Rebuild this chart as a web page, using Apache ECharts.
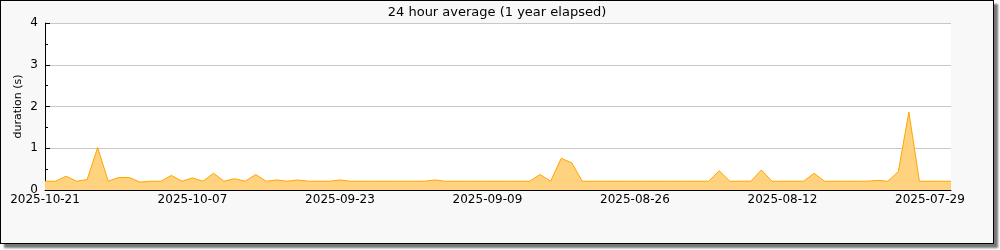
<!DOCTYPE html>
<html>
<head>
<meta charset="utf-8">
<script src="https://cdn.jsdelivr.net/npm/echarts@6/dist/echarts.min.js"></script>
<style>
html,body{margin:0;padding:0;background:#fff;width:1000px;height:250px;overflow:hidden;}
#box{position:absolute;left:0;top:0;width:992px;height:242px;border:1px solid #000;background:#f8f8f8;box-shadow:4px 4px 2px #777;}
#chart{width:992px;height:242px;}
</style>
</head>
<body>
<div id="box"><div id="chart"></div></div>
<script>
const titleText = '24 hour average (1 year elapsed)';
const yAxisName = 'duration (s)';
const startDate = '2025-10-21';
const dayCount = 87;
const durations = [
  0.21, 0.21, 0.33, 0.21, 0.25, 1.02, 0.21, 0.30, 0.30, 0.19,
  0.21, 0.21, 0.35, 0.21, 0.29, 0.21, 0.40, 0.21, 0.27, 0.21,
  0.37, 0.21, 0.24, 0.21, 0.24, 0.21, 0.21, 0.21, 0.24, 0.21,
  0.21, 0.21, 0.21, 0.21, 0.21, 0.21, 0.21, 0.24, 0.21, 0.21,
  0.21, 0.21, 0.21, 0.21, 0.21, 0.21, 0.21, 0.37, 0.21, 0.76,
  0.65, 0.21, 0.21, 0.21, 0.21, 0.21, 0.21, 0.21, 0.21, 0.21,
  0.21, 0.21, 0.21, 0.21, 0.46, 0.21, 0.21, 0.21, 0.48, 0.21,
  0.21, 0.21, 0.21, 0.40, 0.21, 0.21, 0.21, 0.21, 0.21, 0.23,
  0.21, 0.44, 1.87, 0.21, 0.21, 0.21, 0.21
];

// category labels: consecutive days going back in time
const dates = [];
{
  const d0 = new Date(startDate + 'T12:00:00Z');
  for (let i = 0; i < dayCount; i++) {
    const d = new Date(d0.getTime() - i * 86400000);
    dates.push(d.toISOString().slice(0, 10));
  }
}

const font = 'DejaVu Sans';
const chart = echarts.init(document.getElementById('chart'), null, {renderer: 'canvas'});
chart.setOption({
  animation: false,
  backgroundColor: 'transparent',
  title: {
    text: titleText,
    left: 'center',
    top: 0,
    textStyle: {fontFamily: font, fontSize: 13, fontWeight: 'normal', color: '#000'}
  },
  grid: {
    left: 44, top: 22, width: 906, height: 167,
    show: true, backgroundColor: '#fff', borderWidth: 0,
    containLabel: false
  },
  xAxis: {
    type: 'category',
    data: dates,
    boundaryGap: false,
    axisLine: {show: true, lineStyle: {color: '#000', width: 1}},
    axisTick: {show: true, inside: true, length: 5, interval: 6, lineStyle: {color: '#000'}},
    axisLabel: {interval: 13, fontFamily: font, fontSize: 12, color: '#000', margin: 4},
    splitLine: {show: false}
  },
  yAxis: {
    type: 'value',
    min: 0, max: 4, interval: 1,
    name: yAxisName,
    nameLocation: 'middle',
    nameGap: 21,
    nameMoveOverlap: false,
    nameTextStyle: {fontFamily: font, fontSize: 11, color: '#000'},
    axisLine: {show: true, lineStyle: {color: '#000', width: 1}},
    axisTick: {show: true, inside: true, length: 5, lineStyle: {color: '#000'}},
    minorTick: {show: true, splitNumber: 2, length: 3, lineStyle: {color: '#000'}},
    axisLabel: {fontFamily: font, fontSize: 12, color: '#000', margin: 7},
    splitLine: {show: true, lineStyle: {color: '#c8c8c8', width: 1}}
  },
  series: [{
    type: 'line',
    data: durations,
    showSymbol: false,
    symbol: 'none',
    lineStyle: {color: '#ffa500', width: 1},
    areaStyle: {color: '#ffd27f', opacity: 1},
    z: 1
  }]
});
</script>
</body>
</html>
